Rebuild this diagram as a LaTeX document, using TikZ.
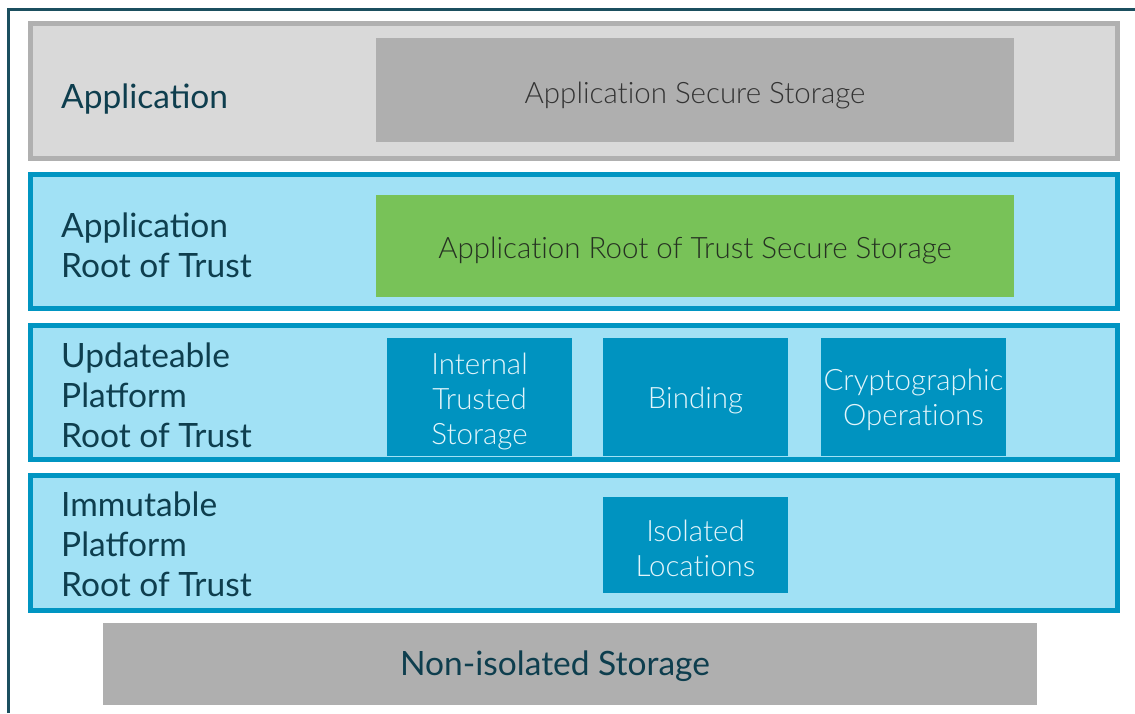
\documentclass[tikz,border=0pt]{standalone}
\usepackage{fontspec}
\setmainfont{Lato}
\newfontfamily\latolight{Lato Light}[Ligatures=NoCommon]
\definecolor{frame}{HTML}{1B4F5F}
\definecolor{labeltxt}{HTML}{0E3E4E}
\definecolor{appfill}{HTML}{D9D9D9}
\definecolor{appborder}{HTML}{B0B0B0}
\definecolor{greybox}{HTML}{AFAFAF}
\definecolor{greytxt}{HTML}{333333}
\definecolor{layerfill}{HTML}{A1E1F5}
\definecolor{layerborder}{HTML}{0095C2}
\definecolor{greenbox}{HTML}{78C258}
\definecolor{greentxt}{HTML}{263222}
\definecolor{bluebox}{HTML}{0093C0}
\definecolor{bluetxt}{HTML}{E2F5FB}
\begin{document}
\begin{tikzpicture}[x=1pt,y=-1pt,
  layerbox/.style={draw=layerborder,fill=layerfill,line width=5pt,minimum width=1087pt,inner sep=0pt},
  applayer/.style={draw=appborder,fill=appfill,line width=5pt,minimum width=1087pt,inner sep=0pt},
  lbl/.style={anchor=west,align=left,text=labeltxt,inner sep=0pt,font=\fontsize{33.5}{40}\selectfont},
  boxtxt/.style={inner sep=0pt,align=center,yshift=-3pt,font=\latolight\fontsize{29.5}{35}\selectfont},
  bluetext/.style={boxtxt,text=bluetxt},
  funcbox/.style={inner sep=0pt,fill=bluebox,minimum width=185pt,minimum height=118pt}
]
\useasboundingbox (0,0) rectangle (1135,713);
\fill[white] (0,0) rectangle (1135,713);
\draw[frame,line width=2.5pt] (8.5,713) -- (8.5,9.5) -- (1135,9.5);

% layers
\node[applayer,minimum height=135pt] (l1) at (574,91) {};
\node[layerbox,minimum height=134pt] (l2) at (574,241.5) {};
\node[layerbox,minimum height=134pt] (l3) at (574,392.5) {};
\node[layerbox,minimum height=135pt] (l4) at (574,543) {};

% labels
\node[lbl] (t1) at (61,99.5) {Application};
\node[lbl] (t2) at (61,245) {Application\\Root of Trust};
\node[lbl] (t3) at (61,395) {Updateable\\Platform\\Root of Trust};
\node[lbl] (t4) at (61,544) {Immutable\\Platform\\Root of Trust};

% inner boxes
\node[fill=greybox,inner sep=0pt,minimum width=638pt,minimum height=104pt] (ass) at (695,90) {};
\node[boxtxt,text=greytxt,yshift=-2.5pt] (asst) at (ass.center) {Application Secure Storage};
\node[fill=greenbox,inner sep=0pt,minimum width=638pt,minimum height=102pt] (arot) at (695,246) {};
\node[boxtxt,text=greentxt,yshift=-1pt] (arott) at (arot.center) {Application Root of Trust Secure Storage};
\node[funcbox] (its) at (479.5,397) {};
\node[bluetext,yshift=-1pt] (itst) at (its.center) {Internal\\Trusted\\Storage};
\node[funcbox] (bind) at (695.5,397) {};
\node[bluetext] (bindt) at (bind.center) {Binding};
\node[funcbox] (crypto) at (913.5,397) {};
\node[bluetext] (cryptot) at (crypto.center) {Cryptographic\\Operations};
\node[funcbox,minimum height=96pt] (iso) at (695.5,545) {};
\node[bluetext] (isot) at (iso.center) {Isolated\\Locations};

\node[fill=greybox,inner sep=0pt,minimum width=934pt,minimum height=82pt] (nis) at (570,664) {};
\node[text=labeltxt,inner sep=0pt,yshift=-2pt,font=\fontsize{33.5}{40}\selectfont] (nist) at ([xshift=-15pt]nis.center) {Non-isolated Storage};
\end{tikzpicture}
\end{document}
